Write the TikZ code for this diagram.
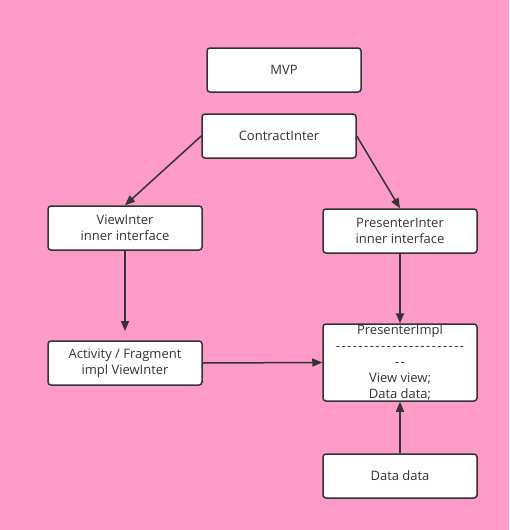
\documentclass[tikz,border=0pt]{standalone}
\usepackage{fontspec}
\setmainfont{Open Sans}
\usetikzlibrary{arrows.meta}
\definecolor{bg}{HTML}{FF9BC8}
\definecolor{ink}{HTML}{333333}
\newcommand\hyph{-\kern1.45pt}
\begin{document}
\begin{tikzpicture}[x=1pt,y=-1pt,
  box/.style={draw=ink,line width=1.5pt,fill=white,rounded corners=3pt,minimum width=154pt,minimum height=44pt,inner sep=0pt,align=center,font=\fontsize{13}{16}\selectfont,text=ink},
  arr/.style={draw=ink,line width=1.5pt,-{Triangle[length=10pt,width=8pt]}}]
\fill[bg] (0,0) rectangle (509,530);
\useasboundingbox (0,0) rectangle (509,530);
\node[box] (mvp) at (284,70) {MVP};
\node[box] (ci) at (279,136) {ContractInter};
\node[box] (vi) at (125,228) {ViewInter\\inner interface};
\node[box] (pi) at (400,231) {PresenterInter\\inner interface};
\node[box] (af) at (125,363) {Activity / Fragment\\impl ViewInter};
\node[box,minimum height=77pt] (pimpl) at (400,362.5) {};
\node[align=center,font=\fontsize{13}{16}\selectfont,text=ink,inner sep=0pt] (pimpltext) at (pimpl.center) {PresenterImpl\\\hyph\hyph\hyph\hyph\hyph\hyph\hyph\hyph\hyph\hyph\hyph\hyph\hyph\hyph\hyph\hyph\hyph\hyph\hyph\hyph\hyph\hyph-\\\hyph-\\View view;\\Data data;};
\node[box] (dd) at (400,476) {Data data};
\coordinate (vtip) at (125,331);
\draw[arr] (ci.west) -- (vi.north);
\draw[arr] (ci.east) -- (pi.north);
\draw[arr] (vi.south) -- (vtip);
\draw[arr] (pi.south) -- (pimpl.north);
\draw[arr] (af.east) -- (pimpl.west);
\draw[arr] (dd.north) -- (pimpl.south);
\end{tikzpicture}
\end{document}
